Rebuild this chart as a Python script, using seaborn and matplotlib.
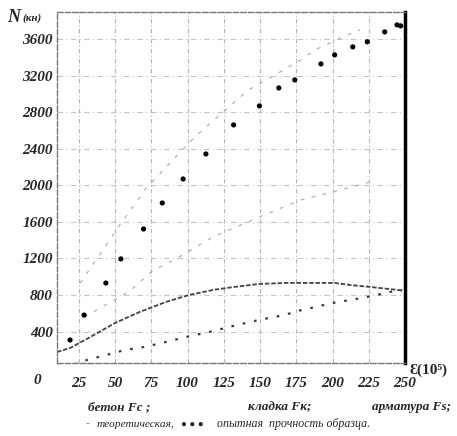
import numpy as np
import pandas as pd
import seaborn as sns
import matplotlib.pyplot as plt

# experimental strength of the specimen (dots)
exp_eps = [19, 28.7, 43.7, 54, 69.7, 82.6, 97, 112.7, 131.8, 149.6, 163, 174,
           192, 201.5, 214, 224, 236, 244.5, 247]
exp_N = [307, 580, 931, 1195, 1523, 1808, 2071, 2345, 2663, 2871, 3068, 3156,
         3331, 3430, 3518, 3573, 3682, 3759, 3748]

# concrete Fc
fc_eps = [10, 19, 33, 50, 67, 85, 101, 117.5, 132, 149, 167, 201.5, 212, 226, 248]
fc_N = [175, 219, 340, 493, 614, 723, 800, 855, 888, 920, 932, 932, 910, 888, 850]

# masonry Fk
fk_eps = [22, 30.7, 36, 56.7, 70, 85, 99, 115, 130, 149, 167, 176, 200, 224, 240, 248]
fk_N = [40, 88, 110, 197, 230, 285, 340, 395, 455, 526, 581, 625, 712, 778, 835, 850]

# reinforcement Fs
fs_eps = [28.7, 59.4, 75, 99, 117.5, 140, 158, 178, 205.6, 226]
fs_N = [559, 833, 1052, 1260, 1435, 1589, 1710, 1841, 1951, 2038]

# theoretical total
th_eps = [26, 56.7, 71.7, 101, 108, 142, 158, 178, 188, 205.6, 219]
th_N = [931, 1644, 1973, 2466, 2575, 3046, 3189, 3375, 3485, 3616, 3704]

x_ticks = [25, 50, 75, 100, 125, 150, 175, 200, 225, 250]
y_ticks = [400, 800, 1200, 1600, 2000, 2400, 2800, 3200, 3600]

sns.set_style("white")
plt.rcParams['font.family'] = ['Liberation Serif', 'DejaVu Serif']

fig = plt.figure(figsize=(4.57, 4.36), dpi=100)
ax = fig.add_axes([57 / 457, 1 - 363 / 436, 348 / 457, 351 / 436])

for x in x_ticks[:-1]:
    ax.axvline(x, color='#b5b5b5', lw=0.8, ls=(0, (4, 2, 1, 2)), zorder=0)
for y in y_ticks:
    ax.axhline(y, color='#c4c4c4', lw=0.8, ls=(0, (5, 3, 1, 3)), zorder=0)

df_th = pd.DataFrame({'eps': th_eps, 'N': th_N})
df_fs = pd.DataFrame({'eps': fs_eps, 'N': fs_N})
df_fc = pd.DataFrame({'eps': fc_eps, 'N': fc_N})
df_fk = pd.DataFrame({'eps': fk_eps, 'N': fk_N})
df_exp = pd.DataFrame({'eps': exp_eps, 'N': exp_N})

sns.lineplot(data=df_th, x='eps', y='N', ax=ax, color='#b0b0b0', lw=0.9,
             ls=(0, (3, 6)), sort=False)
sns.lineplot(data=df_fs, x='eps', y='N', ax=ax, color='#b0b0b0', lw=0.9,
             ls=(0, (3, 6)), sort=False)
sns.lineplot(data=df_fc, x='eps', y='N', ax=ax, color='#444444', lw=1.3,
             ls=(0, (2.5, 1)), sort=False)
sns.lineplot(data=df_fk, x='eps', y='N', ax=ax, color='#3a3a3a', lw=1.6,
             ls=(0, (1.2, 4)), sort=False)
sns.scatterplot(data=df_exp, x='eps', y='N', ax=ax, color='black', s=14,
                edgecolor='none', zorder=5)

ax.set_xlim(10, 248)
ax.set_ylim(55, 3900)
ax.set_xticks(x_ticks)
ax.set_yticks(y_ticks)
tick_font = dict(fontsize=11, fontstyle='italic', fontweight='bold')
ax.set_xticklabels([str(v) for v in x_ticks], **tick_font)
ax.set_yticklabels([str(v) for v in y_ticks], **tick_font)
ax.tick_params(axis='x', length=0, pad=10)
ax.tick_params(axis='y', length=0, pad=3)
ax.set_xlabel('')
ax.set_ylabel('')

for side in ['left', 'top', 'bottom']:
    ax.spines[side].set_color('#777777')
    ax.spines[side].set_linestyle((0, (4, 1.5)))
    ax.spines[side].set_linewidth(1.0)
ax.spines['right'].set_color('black')
ax.spines['right'].set_linewidth(2.5)

fig.text(37 / 457, 1 - 380 / 436, '0', ha='center', va='center', **tick_font)
fig.text(7 / 457, 1 - 17 / 436, 'N', ha='left', va='center', fontsize=13,
         fontstyle='italic', fontweight='bold')
fig.text(22 / 457, 1 - 18 / 436, '(кн)', ha='left', va='center', fontsize=8,
         fontstyle='italic', fontweight='bold')
fig.text(410 / 457, 1 - 370 / 436, 'Ɛ(10⁵)', ha='left', va='center', fontsize=11,
         fontweight='bold')

leg_font = dict(fontsize=9.5, fontstyle='italic', fontweight='bold')
fig.text(88 / 457, 1 - 407 / 436, 'бетон Fc ;', ha='left', va='center', **leg_font)
fig.text(248 / 457, 1 - 407 / 436, 'кладка Fк;', ha='left', va='center', **leg_font)
fig.text(372 / 457, 1 - 407 / 436, 'арматура Fs;', ha='left', va='center', **leg_font)
line2 = dict(fontsize=8.2, fontstyle='italic')
fig.text(86 / 457, 1 - 424 / 436, '-', ha='left', va='center', color='#777777', **line2)
fig.text(97 / 457, 1 - 424 / 436, 'теоретическая,', ha='left', va='center', **line2)
fig.text(181 / 457, 1 - 424 / 436, '● ● ●', ha='left', va='center', fontsize=7)
fig.text(217 / 457, 1 - 424 / 436, 'опытная  прочность образца.', ha='left',
         va='center', fontsize=8.6, fontstyle='italic')

fig.savefig('out.png', dpi=100)
